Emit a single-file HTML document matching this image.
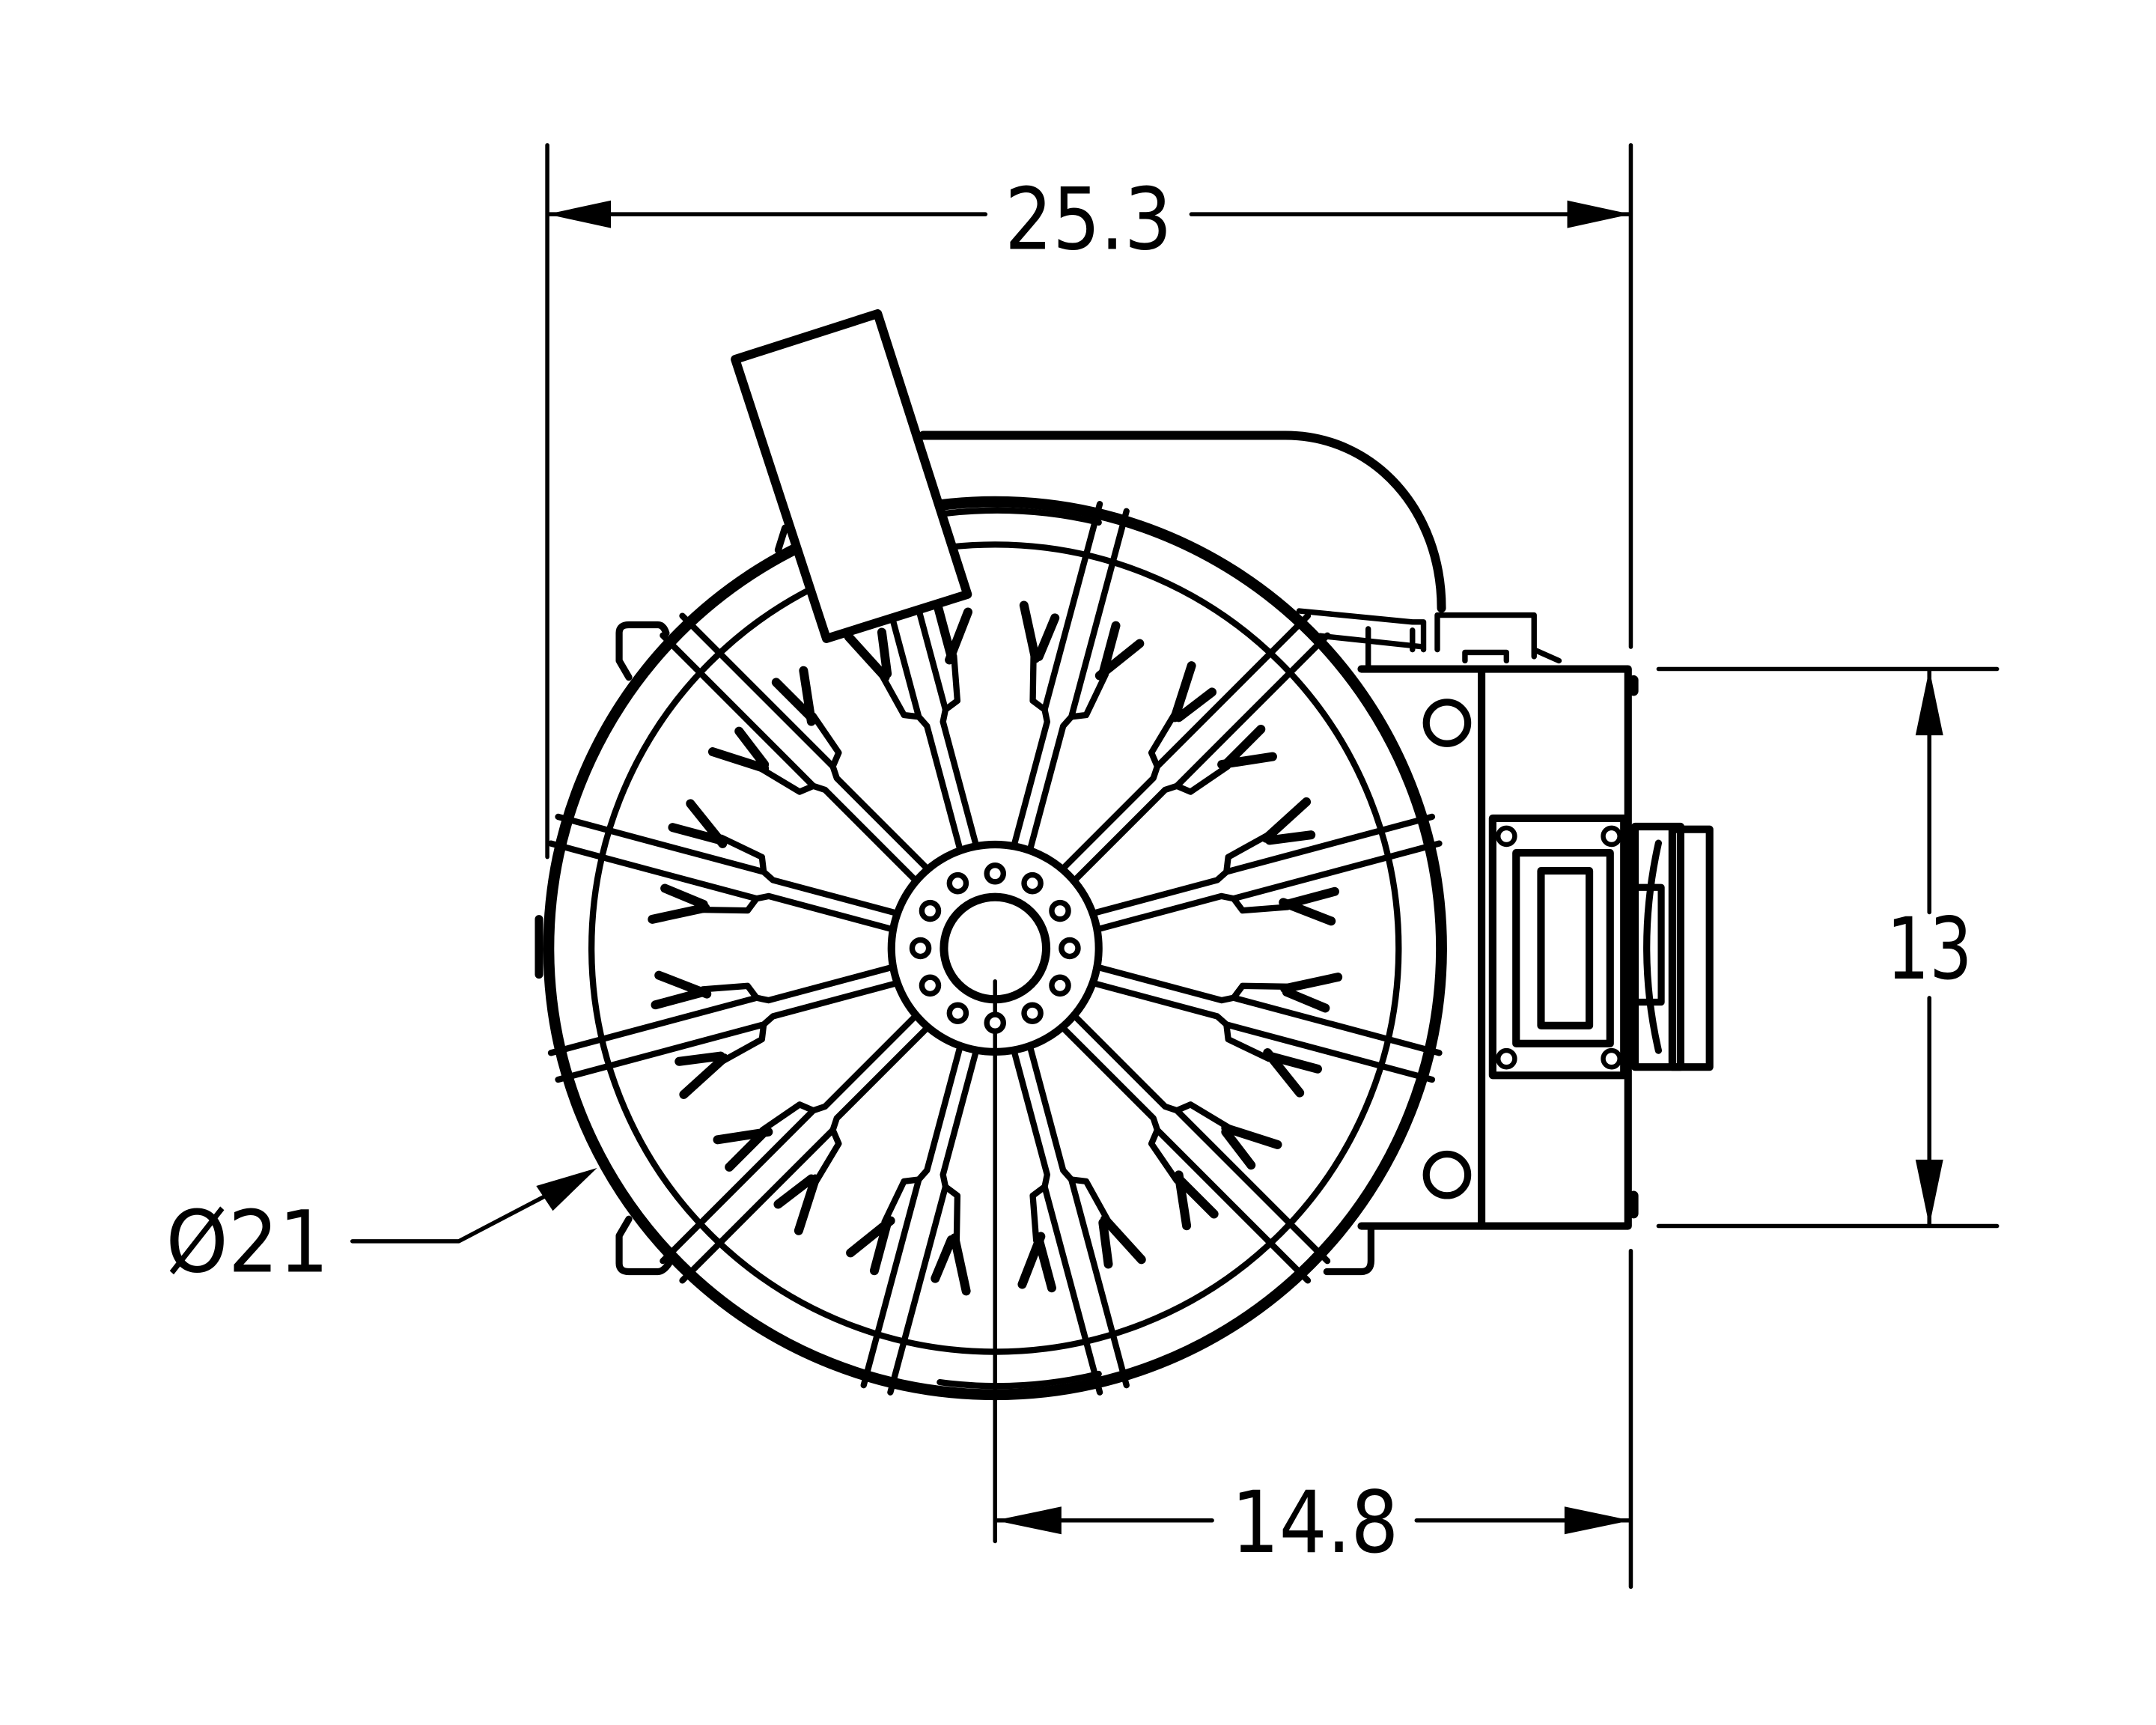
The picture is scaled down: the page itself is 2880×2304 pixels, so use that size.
<!DOCTYPE html>
<html><head><meta charset="utf-8"><style>
html,body{margin:0;padding:0;background:#fff;}
svg{display:block;}
</style></head><body>
<svg width="2880" height="2304" viewBox="0 0 1560 1248" xmlns="http://www.w3.org/2000/svg">
<defs>
<g id="sp" fill="none" stroke="#000" stroke-linecap="round" stroke-linejoin="round">
  <path d="M-6,-76 L-6,-168 L-10,-176 L-10,-330 M6,-76 L6,-168 L10,-176 L10,-330" stroke-width="4.5"/>
  <path d="M-10,-176 L-20,-180 L-28,-212 M10,-176 L20,-180 L26,-212" stroke-width="4.5"/>
  <path d="M-26,-210 L-44,-245 M-24,-212 L-20,-242 M24,-212 L24,-248 M22,-210 L44,-240" stroke-width="6.5"/>
</g>
</defs>
<rect width="1560" height="1248" fill="#fff"/>
<g fill="none" stroke="#000" stroke-linecap="round" stroke-linejoin="round">
  <path d="M396,105 V620 M1180,105 V468 M396,155 H713 M862,155 H1180" stroke-width="3"/>
  <path d="M1200,484 H1445 M1200,887 H1445 M1396,484 V660 M1396,722 V887" stroke-width="3"/>
  <path d="M720,710 V1115 M1180,905 V1148 M720,1100 H877 M1025,1100 H1180" stroke-width="3"/>
  <path d="M255,898 H332 L420,852" stroke-width="3"/>

  <path d="M668,315 H930 C995,315 1043,370 1043,440" stroke-width="6.5"/>
  <path d="M568,382 L563,398" stroke-width="5"/>

  <circle cx="720" cy="686" r="323" stroke-width="8"/>
  <circle cx="720" cy="686" r="292" stroke-width="4.5"/>
  <path d="M680,372 A316,316 0 0 1 795,378 M680,1000 A316,316 0 0 0 795,994" stroke-width="4.5"/>
  <circle cx="720" cy="686" r="75" stroke-width="5.5"/>
  <circle cx="720" cy="686" r="37" stroke-width="6"/>

  <path d="M455,490 L448,478 V458 Q448,452 455,452 H476 Q480,452 482,458" stroke-width="5"/>
  <path d="M455,882 L448,894 V914 Q448,920 455,920 H476 Q480,920 484,914" stroke-width="5"/>
  <path d="M960,920 H985 Q992,920 992,912 V890" stroke-width="5"/>
  <path d="M390,665 V705" stroke-width="6"/>

  <path d="M940,442 L1022,450 L1030,450 V470 M955,460 L1030,468 M990,455 V482 M1022,456 V470" stroke-width="4"/>
  <path d="M1040,470 V445 H1110 V475 M1060,478 V472 H1090 V478 M1110,470 L1128,478" stroke-width="4"/>

  <path d="M985,484 H1178 V887 H985" stroke-width="5.5"/>
  <path d="M1072,484 V887" stroke-width="5.5"/>
  <path d="M1182,492 V500 M1182,865 V878" stroke-width="7"/>
  <circle cx="1047" cy="523" r="15" stroke-width="5"/>
  <circle cx="1047" cy="850" r="15" stroke-width="5"/>
  <rect x="1080" y="592" width="95" height="186" stroke-width="5.5"/>
  <rect x="1097" y="617" width="68" height="138" stroke-width="5.5"/>
  <rect x="1115" y="630" width="35" height="112" stroke-width="5.5"/>
  <circle cx="1090" cy="605" r="6" stroke-width="3.5"/>
  <circle cx="1166" cy="605" r="6" stroke-width="3.5"/>
  <circle cx="1090" cy="766" r="6" stroke-width="3.5"/>
  <circle cx="1166" cy="766" r="6" stroke-width="3.5"/>
  <rect x="1183" y="598" width="33" height="174" stroke-width="5.5"/>
  <rect x="1210" y="600" width="27" height="172" stroke-width="5.5"/>
  <path d="M1183,642 H1202 V725 H1183 M1200,610 Q1183,686 1200,760" stroke-width="5"/>
</g>

<g>
  <use href="#sp" transform="translate(720 686) rotate(15)"/>
  <use href="#sp" transform="translate(720 686) rotate(45)"/>
  <use href="#sp" transform="translate(720 686) rotate(75)"/>
  <use href="#sp" transform="translate(720 686) rotate(105)"/>
  <use href="#sp" transform="translate(720 686) rotate(135)"/>
  <use href="#sp" transform="translate(720 686) rotate(165)"/>
  <use href="#sp" transform="translate(720 686) rotate(195)"/>
  <use href="#sp" transform="translate(720 686) rotate(225)"/>
  <use href="#sp" transform="translate(720 686) rotate(255)"/>
  <use href="#sp" transform="translate(720 686) rotate(285)"/>
  <use href="#sp" transform="translate(720 686) rotate(315)"/>
  <use href="#sp" transform="translate(720 686) rotate(345)"/>
</g>
<g fill="#fff" stroke="#000" stroke-width="4">
  <circle cx="720" cy="632" r="6"/><circle cx="747" cy="639" r="6"/><circle cx="767" cy="659" r="6"/>
  <circle cx="774" cy="686" r="6"/><circle cx="767" cy="713" r="6"/><circle cx="747" cy="733" r="6"/>
  <circle cx="720" cy="740" r="6"/><circle cx="693" cy="733" r="6"/><circle cx="673" cy="713" r="6"/>
  <circle cx="666" cy="686" r="6"/><circle cx="673" cy="659" r="6"/><circle cx="693" cy="639" r="6"/>
</g>
<path d="M532,260 L635,227 L700,430 L598,462 Z" fill="#fff" stroke="#000" stroke-width="6.5" stroke-linejoin="round"/>

<g fill="#000">
  <path d="M396,155 L442,145 L442,165 Z"/>
  <path d="M1180,155 L1134,145 L1134,165 Z"/>
  <path d="M1396,484 L1386,532 L1406,532 Z"/>
  <path d="M1396,887 L1386,839 L1406,839 Z"/>
  <path d="M720,1100 L768,1090 L768,1110 Z"/>
  <path d="M1180,1100 L1132,1090 L1132,1110 Z"/>
  <path d="M432,845 L388,858 L400,876 Z"/>
</g>
<g font-family="'DejaVu Sans','Liberation Sans',sans-serif" font-size="62" fill="#000">
  <text x="727" y="180" textLength="121" lengthAdjust="spacingAndGlyphs">25.3</text>
  <text x="1365" y="708" textLength="62" lengthAdjust="spacingAndGlyphs">13</text>
  <text x="891" y="1123" textLength="121" lengthAdjust="spacingAndGlyphs">14.8</text>
  <text x="120" y="920" textLength="118" lengthAdjust="spacingAndGlyphs">Ø21</text>
</g>
</svg>
</body></html>
